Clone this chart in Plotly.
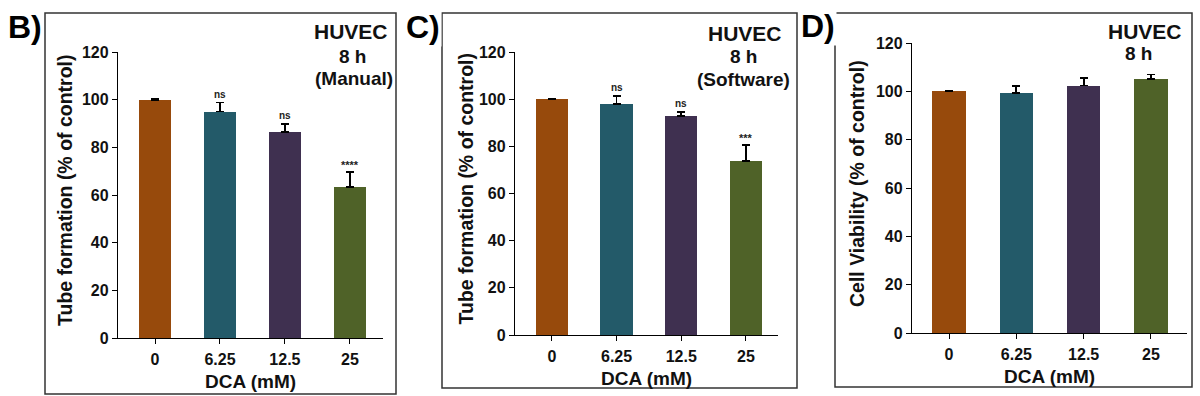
import plotly.graph_objects as go

# ---------------- data ----------------
categories = ["0", "6.25", "12.5", "25"]

tube_manual = [100.0, 95.0, 86.3, 63.4]
tube_manual_err = [0.3, 3.8, 3.4, 6.3]
tube_manual_sig = ["", "ns", "ns", "****"]

tube_software = [100.0, 98.1, 93.0, 73.8]
tube_software_err = [0.3, 3.2, 1.4, 6.6]
tube_software_sig = ["", "ns", "ns", "***"]

viability = [100.0, 99.3, 102.4, 105.0]
viability_err = [0.3, 2.9, 3.2, 2.0]

bar_colors = ["#974A0C", "#235A69", "#3F3050", "#4F6228"]
y_ticks = [0, 20, 40, 60, 80, 100, 120]

W, H = 1200, 396
FONT = "Liberation Sans, Arial, sans-serif"


def px_x(p):
    return p / W


def px_y(p):
    return 1 - p / H


panels = [
    dict(vals=tube_manual, err=tube_manual_err, sig=tube_manual_sig,
         xdom=(118, 383), ydom=(338, 52), xr=[-0.57, 3.51],
         ytitle="Tube formation (% of control)", ytitle_x=65,
         box=(45, 13, 396, 394), letter="B)", letter_xy=(25, 27),
         lines=[("HUVEC", 351, 32, 21), ("8 h", 352, 56, 19), ("(Manual)", 354, 78, 19)]),
    dict(vals=tube_software, err=tube_software_err, sig=tube_software_sig,
         xdom=(515, 778), ydom=(335, 52), xr=[-0.57, 3.495],
         ytitle="Tube formation (% of control)", ytitle_x=465,
         box=(442, 13, 797, 388), letter="C)", letter_xy=(423, 27),
         lines=[("HUVEC", 745, 33, 21), ("8 h", 743, 57, 19), ("(Software)", 743, 80, 19)]),
    dict(vals=viability, err=viability_err, sig=["", "", "", ""],
         xdom=(912, 1187), ydom=(333, 43), xr=[-0.55, 3.535],
         ytitle="Cell Viability (% of control)", ytitle_x=857,
         box=(835, 13, 1192, 387), letter="D)", letter_xy=(818, 26),
         lines=[("HUVEC", 1145, 32, 21), ("8 h", 1138, 53, 19)]),
]

fig = go.Figure()
annotations = []
shapes = []
tick_font = dict(family=FONT, size=16, color="#111", weight="bold")

for i, p in enumerate(panels):
    n = "" if i == 0 else str(i + 1)
    xa, ya = "x" + n, "y" + n
    fig.add_trace(go.Bar(
        x=list(range(len(categories))), y=p["vals"],
        marker=dict(color=bar_colors, line=dict(width=0)),
        width=0.5,
        error_y=dict(type="data", symmetric=False, array=p["err"],
                     arrayminus=[0] * len(p["err"]),
                     color="black", thickness=1.8, width=4),
        xaxis=xa, yaxis=ya, showlegend=False,
    ))
    axis_common = dict(showline=True, linecolor="black", linewidth=1.3,
                       ticks="outside", tickcolor="black", ticklen=5, tickwidth=1.3,
                       showgrid=False, zeroline=False, tickfont=tick_font,
                       automargin=False)
    fig.layout["xaxis" + n] = dict(
        axis_common, domain=[px_x(p["xdom"][0]), px_x(p["xdom"][1])],
        range=p["xr"], tickmode="array", tickvals=list(range(len(categories))),
        ticktext=categories, anchor=ya, ticklabelstandoff=2,
        title=dict(text="DCA (mM)",
                   font=dict(family=FONT, size=19, color="#111", weight="bold"), standoff=7),
    )
    fig.layout["yaxis" + n] = dict(
        axis_common, domain=[px_y(p["ydom"][0]), px_y(p["ydom"][1])],
        range=[0, 120], tickvals=y_ticks, anchor=xa,
    )
    # y-axis title as rotated annotation
    yc = (p["ydom"][0] + p["ydom"][1]) / 2 - 5
    annotations.append(dict(
        text="<b>" + p["ytitle"] + "</b>", x=px_x(p["ytitle_x"]), y=px_y(yc),
        xref="paper", yref="paper",
        textangle=-90, showarrow=False, xanchor="center", yanchor="middle",
        font=dict(family=FONT, size=19.5, color="#111")))
    # panel box
    bx0, by0, bx1, by1 = p["box"]
    shapes.append(dict(type="rect", xref="paper", yref="paper",
                       x0=px_x(bx0), x1=px_x(bx1), y0=px_y(by1), y1=px_y(by0),
                       line=dict(color="#333", width=1.5)))
    # panel letter
    annotations.append(dict(
        text="<b>" + p["letter"] + "</b>", x=px_x(p["letter_xy"][0]), y=px_y(p["letter_xy"][1]),
        xref="paper", yref="paper", showarrow=False, xanchor="center", yanchor="middle",
        font=dict(family=FONT, size=32, color="black"), bgcolor="white"))
    # HUVEC labels
    for txt, lx, ly, fs in p["lines"]:
        annotations.append(dict(
            text="<b>" + txt + "</b>", x=px_x(lx), y=px_y(ly), xref="paper", yref="paper",
            showarrow=False, xanchor="center", yanchor="middle",
            font=dict(family=FONT, size=fs, color="#111")))
    # significance marks
    for k, s in enumerate(p["sig"]):
        if not s:
            continue
        star = s.startswith("*")
        annotations.append(dict(
            text="<b>" + s + "</b>", x=k, y=p["vals"][k] + p["err"][k], xref=xa, yref=ya,
            showarrow=False, xanchor="center", yanchor="bottom",
            yshift=-1 if star else 1,
            font=dict(family=FONT, size=11 if star else 10, color="#222")))

fig.update_layout(
    width=W, height=H, margin=dict(l=0, r=0, t=0, b=0, autoexpand=False),
    paper_bgcolor="white", plot_bgcolor="white",
    annotations=annotations, shapes=shapes, bargap=0,
    font=dict(family=FONT, color="#111"),
)

fig.write_html(
    "out.html",
    config={"displayModeBar": False},
    post_script="document.body.style.margin='0';document.body.style.overflow='hidden';",
)
